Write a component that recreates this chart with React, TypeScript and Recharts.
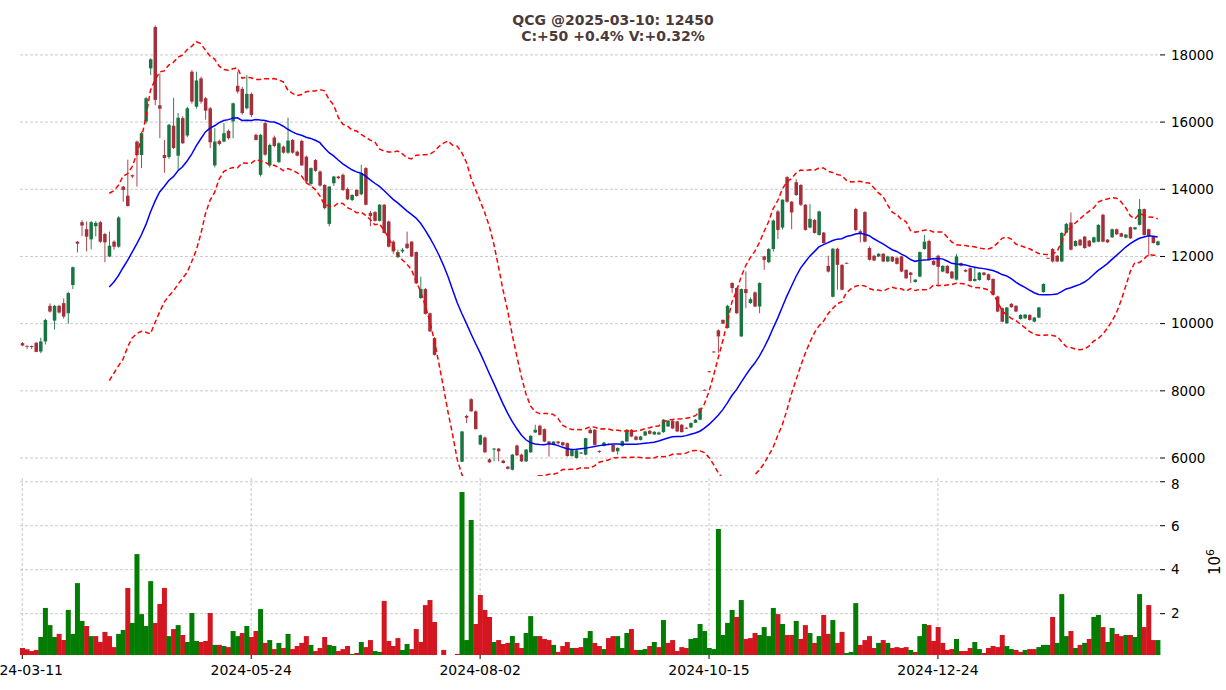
import React from "react";
import { ComposedChart, BarChart, Bar, Line, XAxis, YAxis, CartesianGrid, Cell } from "recharts";

// x ticks (candle index) and their date labels
const tickIdx = [0, 50, 100, 150, 200];
const tickDates = ["2024-03-11", "2024-05-24", "2024-08-02", "2024-10-15", "2024-12-24"];
const priceTicks = [6000, 8000, 10000, 12000, 14000, 16000, 18000];
const volTicks = [2, 4, 6, 8];

const opens = [
  9420, 9340, 9330, 9430, 9170, 9470, 10530, 10090, 10530, 10610,
  10310, 11150, 12440, 13020, 12810, 12510, 12900, 13020, 12670, 12000,
  12440, 12290, 14080, 13810, 14420, 15420, 15020, 16020, 17600, 18830,
  16500, 15020, 14960, 15890, 15000, 16120, 15600, 17500, 16460, 17300,
  16710, 16410, 14710, 15440, 15420, 15740, 16020, 17080, 16990, 16410,
  16840, 15620, 14430, 15970, 14710, 15540, 14810, 15270, 15090, 15470,
  15120, 15440, 14970, 14160, 14870, 14530, 14130, 12970, 14180, 14380,
  14430, 14010, 13680, 13980, 13850, 14630, 13300, 13320, 13060, 13540,
  13040, 12440, 11980, 12150, 12380, 12440, 12130, 10760, 11030, 10310,
  9570, 8340, 7670, 7060, 6500, 5980, 5890, 7250, 7750, 7390,
  6400, 6610, 5960, 6250, 6280, 5920, 5740, 5650, 6370, 6100,
  5900, 6170, 6760, 6960, 6860, 6490, 6400, 6490, 6470, 6440,
  6060, 6000, 6140, 6100, 6840, 6840, 6210, 6360, 6420, 6390,
  6200, 6360, 6490, 6840, 6640, 6540, 6670, 6810, 6700, 6700,
  6770, 6940, 7110, 7090, 6990, 6900, 6910, 7050, 7140, 8030,
  8580, 9170, 9800, 10110, 9870, 11210, 11060, 9620, 11030, 10610,
  10930, 10510, 12000, 11830, 12220, 13340, 12860, 14360, 13630, 14210,
  14130, 13540, 12860, 13090, 12640, 12710, 11720, 10800, 12230, 11750,
  11810, 11820, 13410, 12750, 13320, 12250, 12020, 12000, 12080, 11850,
  11990, 11960, 12000, 11600, 11520, 11240, 11400, 12220, 12460, 11870,
  12020, 11550, 11720, 11550, 11310, 11800, 11600, 11650, 11270, 11300,
  11520, 11470, 11330, 10810, 10460, 10010, 10590, 10530, 10140, 10160,
  10260, 10060, 10180, 10940, 11960, 12220, 12020, 11850, 12710, 13010,
  12310, 12500, 12590, 12470, 12420, 12440, 13240, 12500, 12570, 12810,
  12690, 12560, 12870, 12810, 12940, 13410, 12810, 12590, 12340,
];
const highs = [
  9450, 9350, 9350, 9450, 9580, 10150, 10600, 10560, 10560, 10750,
  10950, 11700, 12460, 13080, 13040, 13060, 13050, 13060, 12700, 12740,
  12480, 13200, 14100, 14880, 14440, 15450, 15720, 16750, 17900, 18880,
  17450, 15470, 15950, 16720, 16270, 16180, 16450, 17550, 17500, 17350,
  16750, 16450, 15820, 15480, 15970, 15780, 16580, 17500, 17050, 17400,
  16880, 15660, 15650, 16020, 15360, 15600, 15400, 15300, 16130, 15500,
  15150, 15480, 15000, 14650, 14900, 14560, 14150, 14100, 14400, 14400,
  14470, 14050, 13850, 14000, 14730, 14660, 13350, 13350, 13560, 13560,
  13070, 12480, 12200, 12250, 12740, 12460, 12150, 11400, 11060, 10330,
  9600, 8340, 7670, 7060, 6500, 5980, 6800, 7290, 7780, 7420,
  6700, 6640, 5990, 6300, 6300, 5950, 5760, 6120, 6400, 6130,
  6270, 6680, 6990, 6990, 6880, 6510, 6500, 6500, 6480, 6460,
  6270, 6250, 6180, 6600, 6900, 6860, 6230, 6480, 6440, 6400,
  6320, 6520, 6860, 6860, 6660, 6660, 6810, 6830, 6800, 6790,
  7160, 7130, 7130, 7110, 7010, 6920, 7060, 7160, 7500, 8040,
  8590, 9180, 9830, 10130, 10560, 11230, 11080, 11050, 11550, 10780,
  10960, 11230, 12020, 12250, 13100, 13380, 13700, 14400, 13650, 14300,
  14150, 13560, 13560, 13110, 13360, 12730, 12020, 12250, 12260, 11770,
  11820, 11820, 13450, 12800, 13350, 12300, 12050, 12100, 12100, 12020,
  12010, 11980, 12020, 11620, 11540, 11320, 12150, 12640, 12500, 11900,
  12050, 11740, 11740, 11570, 12080, 11820, 11620, 11670, 11690, 11540,
  11540, 11490, 11350, 10830, 10480, 10500, 10610, 10550, 10280, 10290,
  10280, 10200, 10500, 11200, 11960, 12250, 12040, 12720, 13000, 13310,
  12480, 12520, 12610, 12490, 12590, 12960, 13270, 12520, 12830, 12830,
  12710, 12670, 12890, 12880, 13710, 13430, 12830, 12610, 12470,
];
const lows = [
  9330, 9250, 9250, 9150, 9120, 9380, 10330, 9820, 10300, 10150,
  10000, 11030, 12120, 12610, 12150, 12210, 12600, 12400, 11830, 11980,
  12200, 12260, 13630, 13490, 14330, 14080, 14630, 15950, 17400, 16500,
  15520, 14490, 14900, 15200, 14580, 15350, 15550, 16550, 16400, 16550,
  16070, 15230, 14650, 15300, 15400, 15480, 15520, 16850, 16220, 16380,
  16150, 15450, 14380, 15000, 14650, 15250, 14780, 15060, 15050, 15060,
  14980, 14700, 14200, 14100, 14520, 14080, 13400, 12900, 14100, 14300,
  13950, 13680, 13650, 13780, 13820, 13520, 12900, 13040, 13040, 12680,
  12270, 12080, 11950, 12100, 12220, 11980, 11180, 10740, 10270, 9750,
  9050, 8340, 7670, 7060, 6500, 5980, 5880, 7040, 7380, 6850,
  6380, 6150, 5860, 5900, 5900, 5840, 5660, 5630, 6060, 5880,
  5880, 6150, 6740, 6670, 6470, 6040, 6380, 6400, 6350, 6040,
  6040, 5980, 6120, 6080, 6720, 6380, 6150, 6340, 6380, 6170,
  6100, 6340, 6470, 6620, 6520, 6520, 6650, 6700, 6690, 6690,
  6750, 6920, 6860, 6770, 6760, 6860, 6890, 7040, 7120, 8000,
  8550, 9140, 9130, 9990, 9850, 10910, 10290, 9600, 10460, 10590,
  10490, 10310, 11600, 11800, 12150, 12520, 12800, 13600, 12810, 13800,
  13500, 12770, 12840, 12680, 12620, 12380, 11520, 10780, 11010, 10990,
  11790, 11820, 12750, 12420, 12420, 11880, 11860, 11980, 11830, 11830,
  11830, 11760, 11530, 11330, 11210, 11220, 11380, 12200, 11880, 11730,
  11100, 11530, 11480, 11330, 11290, 11700, 11530, 11250, 11250, 11280,
  11430, 11280, 10840, 10340, 10040, 9990, 10470, 10340, 10120, 10140,
  10090, 10040, 10160, 10920, 11940, 11820, 11830, 11830, 12690, 12180,
  12290, 12310, 12230, 12280, 12400, 12420, 12420, 12400, 12550, 12640,
  12570, 12540, 12520, 12790, 12920, 12620, 12000, 12380, 12320,
];
const closes = [
  9350, 9320, 9320, 9160, 9470, 10110, 10360, 10530, 10330, 10210,
  10910, 11680, 12380, 12920, 12590, 13020, 13000, 12440, 12420, 12320,
  12290, 13160, 13980, 13500, 14380, 15020, 15670, 16710, 17870, 16660,
  16400, 14930, 15920, 15230, 16130, 15370, 16410, 16610, 17240, 16610,
  16340, 15400, 15420, 15350, 15670, 15520, 16560, 16910, 16270, 16840,
  16210, 15470, 15620, 15030, 15320, 15290, 15370, 15090, 15450, 15090,
  15000, 14710, 14230, 14630, 14550, 14110, 13440, 14080, 14380, 14330,
  13980, 13700, 13830, 13800, 14480, 13540, 13200, 13060, 13540, 12700,
  12290, 12150, 12130, 12200, 12250, 12000, 11200, 11030, 10290, 9770,
  9070, 8340, 7670, 7060, 6500, 5980, 6790, 7200, 7390, 6860,
  6680, 6170, 5870, 6280, 6200, 5850, 5680, 6100, 6080, 5900,
  6250, 6660, 6840, 6690, 6490, 6440, 6490, 6440, 6380, 6060,
  6250, 6230, 6160, 6590, 6740, 6390, 6190, 6460, 6400, 6190,
  6300, 6500, 6840, 6640, 6540, 6640, 6790, 6720, 6780, 6760,
  7140, 7110, 6880, 6790, 6770, 6880, 7040, 7140, 7480, 8010,
  8560, 9150, 9620, 10000, 10530, 11060, 10310, 11030, 10910, 10730,
  10510, 11210, 11900, 12220, 13070, 12790, 13690, 13630, 13310, 13830,
  13540, 12790, 13120, 12700, 13340, 12400, 11550, 12230, 11750, 11010,
  11800, 11820, 12790, 12700, 12440, 11900, 11880, 12080, 11850, 12000,
  11850, 11780, 11550, 11350, 11450, 11310, 12130, 12440, 11900, 11750,
  11690, 11720, 11500, 11350, 12000, 11720, 11550, 11270, 11330, 11520,
  11450, 11300, 10860, 10360, 10060, 10480, 10490, 10360, 10260, 10270,
  10110, 10180, 10480, 11180, 11950, 11850, 11850, 12700, 12970, 12200,
  12460, 12330, 12250, 12300, 12570, 12940, 12440, 12420, 12810, 12660,
  12590, 12650, 12540, 12870, 13410, 12640, 12620, 12400, 12450,
];
// volume in 1e6
const volumes = [
  0.44, 0.38, 0.30, 0.35, 0.94, 2.26, 1.48, 0.94, 1.08, 0.80,
  2.17, 1.08, 3.39, 1.67, 1.44, 0.98, 0.98, 0.71, 1.17, 0.98,
  0.48, 1.08, 1.26, 3.17, 1.58, 4.71, 1.98, 1.44, 3.48, 1.58,
  2.44, 3.17, 0.98, 1.30, 1.48, 1.03, 0.71, 2.03, 0.76, 0.71,
  0.76, 2.03, 0.58, 0.58, 0.53, 0.48, 1.21, 0.98, 1.12, 1.44,
  0.94, 1.21, 2.21, 0.67, 0.80, 0.39, 0.67, 0.44, 1.08, 0.39,
  0.53, 0.67, 0.98, 0.58, 0.30, 0.44, 0.94, 0.58, 0.53, 0.30,
  0.39, 0.53, 0.17, 0.21, 0.71, 0.48, 0.80, 0.30, 0.26, 2.58,
  0.76, 0.53, 0.89, 0.35, 0.62, 0.39, 1.30, 0.71, 2.39, 2.62,
  1.62, null, 0.35, null, null, 0.17, 7.53, 0.80, 6.26, 1.53,
  2.85, 2.17, 1.85, 0.71, 0.80, 0.62, 0.67, 0.98, 0.67, 0.44,
  1.12, 1.89, 0.98, 0.98, 0.85, 0.80, 0.58, 0.26, 0.53, 0.71,
  0.44, 0.44, 0.48, 0.89, 1.21, 0.67, 0.53, 0.39, 0.89, 0.98,
  0.98, 0.44, 1.12, 1.30, 0.35, 0.35, 0.39, 0.53, 0.71, 0.48,
  1.71, 0.67, 0.80, 0.30, 0.48, 0.44, 0.85, 0.89, 1.53, 1.21,
  0.44, 0.39, 5.85, 1.03, 1.58, 2.17, 1.85, 2.62, 0.85, 0.89,
  1.12, 1.03, 1.39, 0.98, 2.26, 1.98, 1.53, 1.03, 1.03, 1.67,
  0.85, 1.48, 1.12, 0.67, 0.98, 1.94, 1.08, 1.71, 0.67, 1.17,
  0.21, 0.26, 2.48, 0.58, 0.80, 0.98, 0.44, 0.67, 0.80, 0.67,
  0.44, 0.48, 0.44, 0.48, 0.35, 0.26, 0.98, 1.53, 1.48, 0.76,
  1.39, 0.67, 0.35, 0.39, 0.85, 0.30, 0.30, 0.44, 0.71, 0.39,
  0.21, 0.44, 0.53, 0.48, 1.03, 0.53, 0.39, 0.35, 0.26, 0.35,
  0.39, 0.39, 0.48, 0.58, 0.58, 1.85, 0.67, 2.89, 0.98, 1.21,
  0.44, 0.58, 0.67, 0.85, 1.85, 1.94, 1.39, 0.71, 1.35, 1.08,
  0.98, 1.03, 1.03, 0.94, 2.89, 1.39, 2.39, 0.80, 0.80,
];
// volume bar side: u = close above previous close, d = below
const volSide = (
  "dddduuuudd uuuududddd duuduuuuud ddududuuud ddududuudu ddudududud " +
  "ddduddduud ddududduud ddduuddddd dddddduuud dddudddudd uuuddduddd " +
  "udduuddudd uuudduudud uddddduuuu uuuuuududd duuuududdu ddududdudd " +
  "uuuddddudu dddduduudd dddduddduu ddddduuddu dduuuduuud ududuuduud duduudddu"
).replace(/ /g, "").split("");

const CANDLE_UP = "#1a7444";
const CANDLE_DN = "#a3303a";
const VOL_UP = "#037c03";
const VOL_DN = "#d3161f";
const GRID = "#bdbdbd";
const FONT = "DejaVu Sans";

const rows = closes.map((c, i) => {
  let mid: number | null = null;
  let upper: number | null = null;
  let lower: number | null = null;
  if (i >= 19) {
    const w = closes.slice(i - 19, i + 1);
    const m = w.reduce((a, b) => a + b, 0) / 20;
    const sd = Math.sqrt(w.reduce((a, b) => a + (b - m) * (b - m), 0) / 20);
    mid = m;
    upper = m + 2 * sd;
    lower = m - 2 * sd;
  }
  return {
    i,
    open: opens[i],
    high: highs[i],
    low: lows[i],
    close: c,
    vol: volumes[i],
    side: volSide[i],
    mid,
    upper,
    lower,
  };
});

const CandleShape = (props: any) => {
  const { x, y, width, height, payload } = props;
  if (!payload || payload.high === payload.low) return <g />;
  const top = Math.min(y, y + height);
  const h = Math.abs(height);
  const k = h / (payload.high - payload.low);
  const py = (v: number) => top + (payload.high - v) * k;
  const color = payload.close >= payload.open ? CANDLE_UP : CANDLE_DN;
  const cx = x + width / 2;
  const bw = width * 0.7;
  const y1 = py(Math.max(payload.open, payload.close));
  const y2 = py(Math.min(payload.open, payload.close));
  return (
    <g>
      <line x1={cx} x2={cx} y1={top} y2={top + h} stroke={color} strokeWidth={0.9} />
      <rect x={cx - bw / 2} y={y1} width={bw} height={Math.max(0.9, y2 - y1)} fill={color} />
    </g>
  );
};

const yTickStyle = { fontSize: 13.5, fill: "#000", fontFamily: FONT };
const xTickStyle = { fontSize: 14, fill: "#000", fontFamily: FONT };
const fmtDate = (v: number) => {
  const k = tickIdx.indexOf(v);
  return k >= 0 ? tickDates[k] : "";
};

export default function App() {
  return (
    <div
      style={{
        position: "absolute",
        left: 0,
        top: 0,
        width: 1226,
        height: 690,
        background: "#fff",
        fontFamily: FONT,
        overflow: "hidden",
      }}
    >
      <div style={{ position: "absolute", left: 0, top: 0 }}>
        <ComposedChart
          width={1226}
          height={480}
          data={rows}
          margin={{ top: 22, right: 6, left: 20, bottom: 4 }}
          barCategoryGap={0}
          barGap={0}
        >
          <CartesianGrid stroke={GRID} strokeDasharray="3 2" strokeWidth={0.8} syncWithTicks />
          <XAxis
            dataKey="i"
            type="category"
            ticks={tickIdx}
            interval={0}
            height={0}
            tick={false}
            axisLine={false}
            tickLine={false}
          />
          <YAxis
            orientation="right"
            width={60}
            domain={[5464, 18980]}
            allowDataOverflow
            ticks={priceTicks}
            axisLine={false}
            tickSize={5}
            tickMargin={6}
            tickLine={{ stroke: "#000" }}
            tick={yTickStyle}
          />
          <Bar
            dataKey={(d: any) => [d.low, d.high]}
            shape={CandleShape}
            isAnimationActive={false}
          />
          <Line
            dataKey="mid"
            stroke="#0000ff"
            strokeWidth={1.5}
            dot={false}
            isAnimationActive={false}
          />
          <Line
            dataKey="upper"
            stroke="#ff0000"
            strokeWidth={1.5}
            strokeDasharray="5 3"
            dot={false}
            isAnimationActive={false}
          />
          <Line
            dataKey="lower"
            stroke="#ff0000"
            strokeWidth={1.5}
            strokeDasharray="5 3"
            dot={false}
            isAnimationActive={false}
          />
        </ComposedChart>
      </div>
      <div style={{ position: "absolute", left: 0, top: 476 }}>
        <BarChart
          width={1226}
          height={214}
          data={rows}
          margin={{ top: 2, right: 6, left: 20, bottom: 0 }}
          barCategoryGap={0}
          barGap={0}
        >
          <CartesianGrid stroke={GRID} strokeDasharray="3 2" strokeWidth={0.8} syncWithTicks />
          <XAxis
            dataKey="i"
            type="category"
            ticks={tickIdx}
            interval={0}
            height={35}
            tickFormatter={fmtDate}
            axisLine={false}
            tickSize={4}
            tickMargin={6}
            tickLine={{ stroke: "#000" }}
            tick={xTickStyle}
          />
          <YAxis
            orientation="right"
            width={60}
            domain={[0.12, 8.17]}
            allowDataOverflow
            ticks={volTicks}
            axisLine={false}
            tickSize={5}
            tickMargin={6}
            tickLine={{ stroke: "#000" }}
            tick={yTickStyle}
          />
          <Bar dataKey="vol" isAnimationActive={false}>
            {rows.map((r) => (
              <Cell key={r.i} fill={r.side === "u" ? VOL_UP : VOL_DN} />
            ))}
          </Bar>
        </BarChart>
      </div>
      <svg
        width={1226}
        height={690}
        style={{ position: "absolute", left: 0, top: 0, pointerEvents: "none" }}
      >
        <text
          x={613}
          y={25}
          textAnchor="middle"
          fontFamily={FONT}
          fontWeight="bold"
          fontSize={14}
          fill="#4b3a3a"
        >
          QCG @2025-03-10: 12450
        </text>
        <text
          x={613}
          y={41}
          textAnchor="middle"
          fontFamily={FONT}
          fontWeight="bold"
          fontSize={14}
          fill="#4b3a3a"
        >
          C:+50 +0.4% V:+0.32%
        </text>
        <text
          transform="translate(1220,562) rotate(-90)"
          textAnchor="middle"
          fontFamily={FONT}
          fontSize={15}
          fill="#000"
        >
          10
          <tspan dy={-6} fontSize={11}>
            6
          </tspan>
        </text>
      </svg>
    </div>
  );
}
